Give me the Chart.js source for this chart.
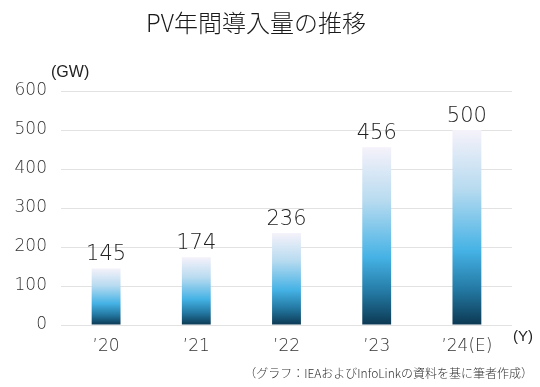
<!DOCTYPE html>
<html><head><meta charset="utf-8">
<script src="https://cdn.jsdelivr.net/npm/chart.js@4"></script>
<style>html,body{margin:0;padding:0;background:#fff}#wrap{position:relative;width:540px;height:387px}</style>
</head><body><div id="wrap"><canvas id="c" width="540" height="387"></canvas></div>
<script>
const categories = ["’20", "’21", "’22", "’23", "’24(E)"];
const values = [145, 174, 236, 456, 500];
const yTicks = [0, 100, 200, 300, 400, 500, 600];
const titleText = "PV年間導入量の推移";
const yUnit = "(GW)";
const xUnit = "(Y)";
const noteText = "（グラフ：IEAおよびInfoLinkの資料を基に筆者作成）";

const numFont = "'DejaVu Sans', sans-serif";
const jpFont = "'Noto Sans CJK JP', sans-serif";

function barGradient(ctx) {
  const chart = ctx.chart;
  if (!chart.chartArea || ctx.raw == null) return '#46b3e6';
  const y = chart.scales.y;
  const top = y.getPixelForValue(ctx.raw);
  const bot = y.getPixelForValue(0);
  const g = chart.ctx.createLinearGradient(0, top, 0, bot);
  g.addColorStop(0, '#f5f2fa');
  g.addColorStop(0.3, '#b8dbf0');
  g.addColorStop(0.62, '#45b2e5');
  g.addColorStop(0.82, '#2378a2');
  g.addColorStop(1, '#0c3852');
  return g;
}

const textPlugin = {
  id: 'texts',
  afterDraw(chart) {
    const c = chart.ctx;
    c.save();
    c.fillStyle = '#1a1a1a';
    c.font = "300 24px " + jpFont;
    c.textAlign = 'center';
    c.textBaseline = 'middle';
    c.fillText(titleText, 256, 23);
    c.fillStyle = '#222';
    c.font = "16px 'Liberation Sans', sans-serif";
    c.textAlign = 'left';
    c.fillText(yUnit, 51, 73);
    c.font = "15px 'Liberation Sans', sans-serif";
    c.fillText(xUnit, 513, 337);
    c.fillStyle = '#333';
    c.font = "300 12px " + jpFont;
    c.textAlign = 'right';
    c.fillText(noteText, 533, 373);
    const meta = chart.getDatasetMeta(0);
    c.fillStyle = '#222';
    c.font = "200 21px " + numFont;
    c.textAlign = 'center';
    c.textBaseline = 'alphabetic';
    meta.data.forEach((bar, i) => {
      c.fillText(String(values[i]), bar.x, bar.y - 8);
    });
    c.restore();
  }
};

new Chart(document.getElementById('c'), {
  type: 'bar',
  data: {
    labels: categories,
    datasets: [{
      data: values,
      backgroundColor: barGradient,
      borderWidth: 0,
      categoryPercentage: 1,
      barPercentage: 0.32
    }]
  },
  options: {
    responsive: false,
    devicePixelRatio: 1,
    animation: false,
    layout: { padding: { top: 91, left: 0, right: 28, bottom: 0 } },
    plugins: { legend: { display: false }, title: { display: false }, tooltip: { enabled: false } },
    scales: {
      x: {
        grid: { display: false, drawTicks: false },
        border: { display: false },
        ticks: { color: '#333', font: { family: numFont, size: 17, weight: 200 }, padding: 11, maxRotation: 0, autoSkip: false },
        afterFit(s) { s.height = 62; }
      },
      y: {
        min: 0, max: 600,
        afterBuildTicks(s) { s.ticks = yTicks.map(v => ({ value: v })); },
        grid: { color: '#e2e2e2', lineWidth: 1, drawTicks: false },
        border: { display: false },
        ticks: { color: '#333', font: { family: numFont, size: 17, weight: 200 }, padding: 14 },
        afterFit(s) { s.width = 61; }
      }
    }
  },
  plugins: [textPlugin]
});
</script>
</body></html>
